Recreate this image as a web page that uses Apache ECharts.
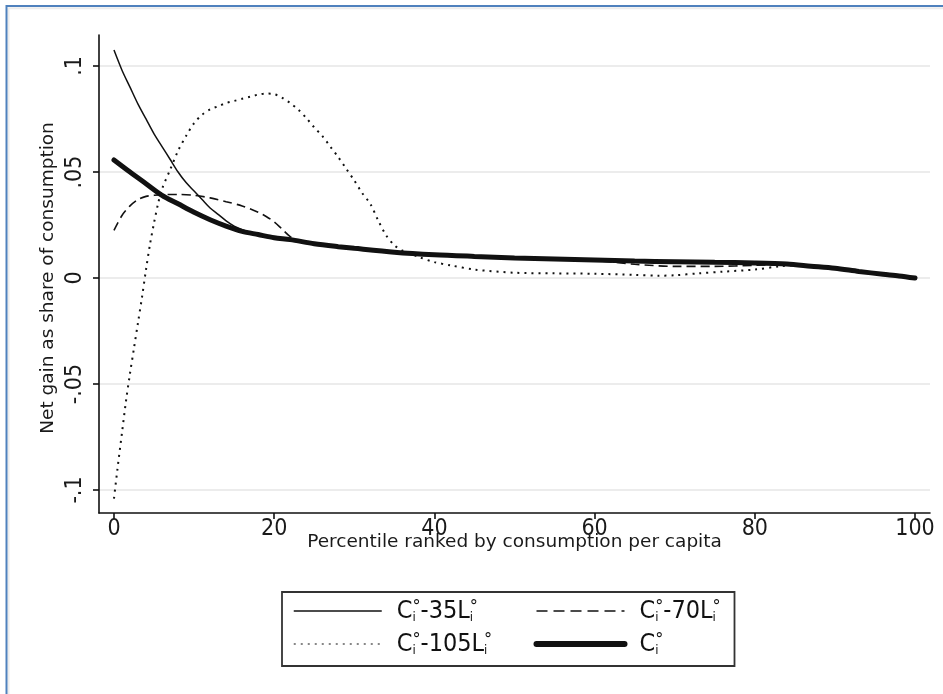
<!DOCTYPE html>
<html>
<head>
<meta charset="utf-8">
<script src="https://cdn.jsdelivr.net/npm/echarts@6/dist/echarts.min.js"></script>
<style>
html, body { margin: 0; padding: 0; background: #ffffff; }
#chart { width: 943px; height: 694px; }
</style>
</head>
<body>
<div id="chart"></div>
<script>
// Net gain as a share of consumption, by consumption percentile
const seriesNames = ['C°-35L°', 'C°-70L°', 'C°-105L°', 'C°'];

const pct35 = [0, 1, 2, 3, 4, 5, 6, 7, 8, 9, 10, 11, 12, 13, 14, 15, 16, 17, 18, 20, 22, 25, 30, 35, 40, 50, 60, 70, 80, 84, 87, 90, 93, 96, 98, 100];
const net35 = [0.1075, 0.098, 0.090, 0.082, 0.075, 0.068, 0.062, 0.056, 0.050, 0.045, 0.041, 0.037, 0.033, 0.030, 0.027, 0.0245, 0.0228, 0.0215, 0.0205, 0.019, 0.018, 0.0162, 0.014, 0.0122, 0.011, 0.0095, 0.0085, 0.0077, 0.0071, 0.0066, 0.0056, 0.0046, 0.0031, 0.0018, 0.001, 0];

const pct70 = [0, 1, 2, 3, 4, 5, 6, 8, 10, 12, 14, 16, 18, 19, 20, 21, 22, 23, 25, 30, 35, 40, 50, 60, 65, 70, 75, 80, 84, 87, 90, 93, 96, 98, 100];
const net70 = [0.0225, 0.0295, 0.034, 0.037, 0.0385, 0.039, 0.0393, 0.0394, 0.039, 0.0378, 0.036, 0.034, 0.031, 0.029, 0.0265, 0.023, 0.0195, 0.0175, 0.016, 0.014, 0.0122, 0.011, 0.0095, 0.0082, 0.0065, 0.0055, 0.0055, 0.006, 0.0063, 0.0056, 0.0046, 0.0031, 0.0018, 0.001, 0];

const pct105 = [0, 0.5, 1, 1.5, 2, 2.5, 3, 3.5, 4, 4.5, 5, 5.5, 6, 7, 8, 9, 10, 11, 12, 13, 14, 15, 16, 17, 18, 19, 20, 21, 22, 23, 24, 25, 26, 27, 28, 29, 30, 31, 32, 33, 34, 35, 36, 38, 40, 42, 45, 50, 55, 60, 65, 68, 70, 73, 76, 80, 83, 85, 87, 90, 93, 96, 98, 100];
const net105 = [-0.104, -0.088, -0.073, -0.058, -0.045, -0.033, -0.021, -0.009, 0.004, 0.016, 0.026, 0.035, 0.042, 0.051, 0.060, 0.067, 0.073, 0.077, 0.0795, 0.081, 0.0825, 0.0835, 0.0845, 0.0855, 0.0865, 0.087, 0.0867, 0.085, 0.0825, 0.0795, 0.0755, 0.071, 0.067, 0.062, 0.057, 0.0515, 0.046, 0.040, 0.035, 0.027, 0.020, 0.0155, 0.013, 0.010, 0.0075, 0.006, 0.004, 0.0025, 0.0022, 0.002, 0.0015, 0.0011, 0.0013, 0.0022, 0.003, 0.004, 0.0055, 0.006, 0.0056, 0.0046, 0.0031, 0.0018, 0.001, 0];

const pctC = [0, 2, 4, 6, 8, 10, 12, 14, 16, 18, 20, 22, 25, 28, 30, 35, 40, 45, 50, 55, 60, 65, 70, 75, 80, 84, 87, 90, 93, 96, 98, 100];
const netC = [0.0557, 0.050, 0.0445, 0.039, 0.035, 0.031, 0.0275, 0.0245, 0.022, 0.0205, 0.019, 0.0181, 0.0162, 0.0148, 0.014, 0.0122, 0.011, 0.0102, 0.0095, 0.009, 0.0085, 0.008, 0.0077, 0.0074, 0.0071, 0.0066, 0.0056, 0.0046, 0.0031, 0.0018, 0.001, 0];

const xTicks = { min: 0, max: 100, step: 20 };
const yTicks = { min: -0.1, max: 0.1, step: 0.05 };

const narrowFont = '"Liberation Sans Narrow", "DejaVu Sans Condensed", "Liberation Sans", sans-serif';
const titleFont = '"DejaVu Sans", "Liberation Sans", sans-serif';
const ink = '#111111';
const hidden = 'rgba(0,0,0,0)';

function pairs(xs, ys) { return xs.map((x, i) => [x, ys[i]]); }

// Stata-style tick text: .1, .05, 0, -.05, -.1
function stataNum(v) {
  const r = Math.round(v * 1000) / 1000;
  if (Math.abs(r) < 1e-9) return '0';
  return String(r).replace('0.', '.');
}

const legendRich = {
  b: { fontFamily: narrowFont, fontSize: 25, color: ink, lineHeight: 26 },
  s: { fontFamily: narrowFont, fontSize: 13, color: ink, verticalAlign: 'bottom', lineHeight: 26, width: 0 },
  u: { fontFamily: narrowFont, fontSize: 18, color: ink, verticalAlign: 'top', lineHeight: 26 }
};
const legendText = {
  'C°-35L°': '{b|C}{s|i}{u|°}{b|-35L}{s|i}{u|°}',
  'C°-70L°': '{b|C}{s|i}{u|°}{b|-70L}{s|i}{u|°}',
  'C°-105L°': '{b|C}{s|i}{u|°}{b|-105L}{s|i}{u|°}',
  'C°': '{b|C}{s|i}{u|°}'
};
const noMarker = { color: hidden, borderColor: hidden, borderWidth: 0, opacity: 0 };

const chart = echarts.init(document.getElementById('chart'), null, { renderer: 'canvas' });

const lineBase = { type: 'line', xAxisIndex: 0, yAxisIndex: 0, symbol: 'none', showSymbol: false, smooth: 0.3, animation: false, color: ink };

chart.setOption({
  backgroundColor: '#ffffff',
  animation: false,
  graphic: [
    { type: 'line', shape: { x1: 6, y1: 6, x2: 943, y2: 6 }, style: { stroke: '#4f81bd', lineWidth: 2 }, z: 10 },
    { type: 'line', shape: { x1: 6.5, y1: 5, x2: 6.5, y2: 694 }, style: { stroke: '#4f81bd', lineWidth: 2 }, z: 10 },
    { type: 'line', shape: { x1: 8, y1: 8.2, x2: 943, y2: 8.2 }, style: { stroke: '#ececec', lineWidth: 2 }, z: 9 },
    { type: 'line', shape: { x1: 8.5, y1: 8, x2: 8.5, y2: 694 }, style: { stroke: '#ececec', lineWidth: 2 }, z: 9 }
  ],
  grid: [
    { left: 99, right: 13, top: 35, bottom: 181 },
    { left: 99, right: 13, top: 66, bottom: 204 },
    { left: 114, right: 28, top: 35, bottom: 181 }
  ],
  xAxis: [
    {
      gridIndex: 0, type: 'value', min: -1.87, max: 101.87,
      axisLine: { show: true, onZero: false, lineStyle: { color: ink, width: 1.6 } },
      axisTick: { show: false }, axisLabel: { show: false }, splitLine: { show: false }
    },
    { gridIndex: 1, type: 'value', min: 0, max: 1, show: false },
    {
      gridIndex: 2, type: 'value', min: xTicks.min, max: xTicks.max, interval: xTicks.step,
      axisLine: { show: false, onZero: false },
      axisTick: { show: true, length: 6, lineStyle: { color: ink, width: 1.6 } },
      axisLabel: { margin: 5, fontFamily: narrowFont, fontSize: 23, color: '#1a1a1a' },
      splitLine: { show: false },
      name: 'Percentile ranked by consumption per capita',
      nameLocation: 'middle', nameGap: 20, nameMoveOverlap: false,
      nameTextStyle: { fontFamily: titleFont, fontSize: 18.5, color: '#1a1a1a' }
    }
  ],
  yAxis: [
    {
      gridIndex: 0, type: 'value', min: -0.1108, max: 0.1146,
      axisLine: { show: true, onZero: false, lineStyle: { color: ink, width: 1.6 } },
      axisTick: { show: false }, axisLabel: { show: false }, splitLine: { show: false }
    },
    {
      gridIndex: 1, type: 'value', min: yTicks.min, max: yTicks.max, interval: yTicks.step,
      axisLine: { show: false, onZero: false },
      axisTick: { show: true, length: 6, lineStyle: { color: ink, width: 1.6 } },
      axisLabel: { rotate: 90, margin: 12, fontFamily: narrowFont, fontSize: 23, color: '#1a1a1a', formatter: stataNum },
      splitLine: { show: true, lineStyle: { color: '#e6e6e6', width: 1.5 } },
      name: 'Net gain as share of consumption',
      nameLocation: 'middle', nameGap: 41, nameMoveOverlap: false,
      nameTextStyle: { fontFamily: titleFont, fontSize: 18.5, color: '#1a1a1a' }
    },
    { gridIndex: 2, type: 'value', min: 0, max: 1, show: false }
  ],
  legend: {
    orient: 'vertical',
    left: 282, top: 592, height: 62,
    padding: [6, 9, 9, 11],
    itemGap: 7,
    itemWidth: 88, itemHeight: 14,
    borderColor: '#333333', borderWidth: 1.8,
    itemStyle: noMarker,
    data: [
      { name: seriesNames[0], textStyle: { width: 132 }, itemStyle: noMarker, lineStyle: { width: 1.5, type: 'solid' } },
      { name: seriesNames[2], textStyle: { width: 132 }, itemStyle: noMarker, lineStyle: { width: 1.2, type: [2, 5] } },
      { name: seriesNames[1], textStyle: { width: 86 }, itemStyle: noMarker, lineStyle: { width: 1.5, type: [11, 6] } },
      { name: seriesNames[3], textStyle: { width: 86 }, itemStyle: noMarker, lineStyle: { width: 6, type: 'solid', cap: 'round' } }
    ],
    formatter: name => legendText[name],
    textStyle: { padding: [0, 0, 0, 10], lineHeight: 26, rich: legendRich },
    selectedMode: false
  },
  series: [
    Object.assign({}, lineBase, { name: seriesNames[0], data: pairs(pct35, net35), z: 3,
      lineStyle: { color: ink, width: 1.5, type: 'solid' } }),
    Object.assign({}, lineBase, { name: seriesNames[1], data: pairs(pct70, net70), z: 3,
      lineStyle: { color: ink, width: 1.6, type: [9, 5] } }),
    Object.assign({}, lineBase, { name: seriesNames[2], data: pairs(pct105, net105), z: 3,
      lineStyle: { color: ink, width: 2, type: [2, 5] } }),
    Object.assign({}, lineBase, { name: seriesNames[3], data: pairs(pctC, netC), z: 4,
      lineStyle: { color: ink, width: 5, type: 'solid', cap: 'round' } })
  ]
});
</script>
</body>
</html>
